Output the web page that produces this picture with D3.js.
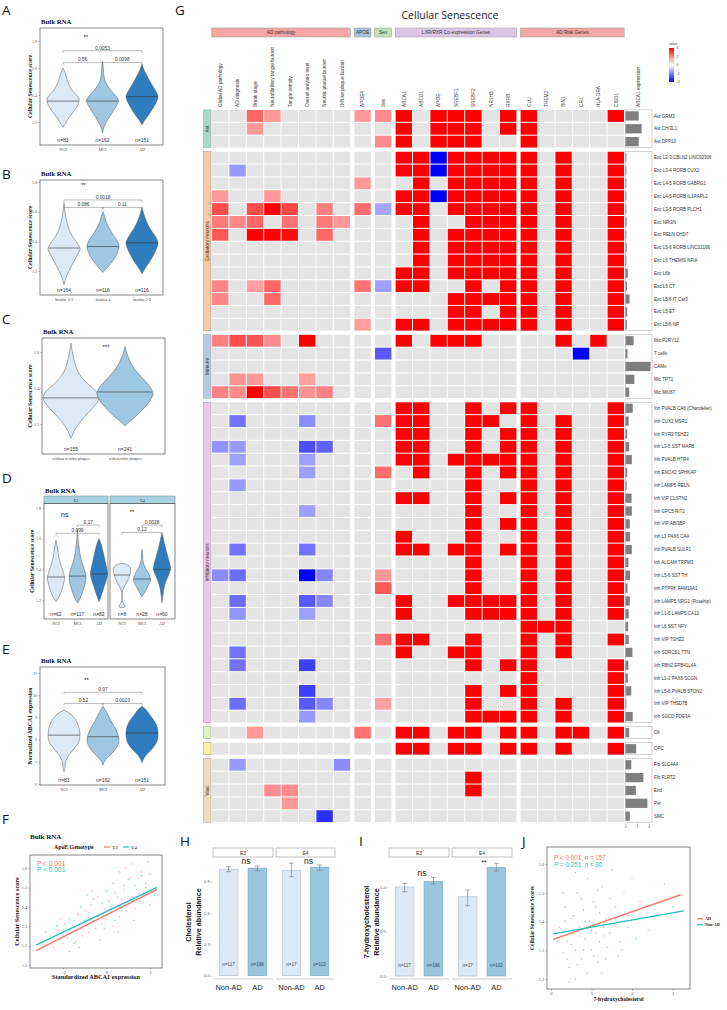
<!DOCTYPE html>
<html>
<head>
<meta charset="utf-8">
<script src="https://cdn.jsdelivr.net/npm/d3@7"></script>
<style>
body { margin: 0; background: #fff; }
</style>
</head>
<body>
<svg id="fig" width="727" height="1010"></svg>
<script>
var SERIF = '"Liberation Serif","Times New Roman",serif';
var SANS = '"Liberation Sans",Arial,sans-serif';
var LETTER = '"Open Sans","DejaVu Sans",sans-serif';

var dxCats = ["NCI", "MCI", "AD"];
var violinColors = ["#dce9f6", "#9dc7e2", "#2f7dbf"];

var violinA = [
  [[1.16,0],[1.18,.1],[1.22,.3],[1.26,.55],[1.3,.8],[1.34,.97],[1.37,1],[1.4,.85],[1.43,.6],[1.47,.4],[1.51,.27],[1.55,.17],[1.58,.08],[1.6,0]],
  [[1.12,0],[1.15,.06],[1.19,.2],[1.24,.45],[1.29,.72],[1.33,.92],[1.36,1],[1.39,.85],[1.43,.55],[1.47,.3],[1.51,.15],[1.56,.07],[1.61,.04],[1.65,0]],
  [[1.18,0],[1.21,.15],[1.25,.4],[1.29,.62],[1.33,.82],[1.37,.97],[1.39,1],[1.42,.9],[1.46,.7],[1.5,.5],[1.54,.32],[1.58,.15],[1.63,0]]
];
var medianA = [1.355, 1.355, 1.388];
var nA = [83, 162, 151];

var braakCats = ["braaksc 0-3", "braaksc 4", "braaksc 5-6"];
var violinB = [
  [[1.11,0],[1.14,.08],[1.18,.22],[1.23,.45],[1.28,.7],[1.32,.9],[1.35,1],[1.39,.82],[1.43,.55],[1.47,.35],[1.52,.2],[1.57,.1],[1.62,.04],[1.66,0]],
  [[1.19,0],[1.22,.25],[1.26,.55],[1.3,.8],[1.34,.95],[1.37,1],[1.41,.85],[1.45,.6],[1.49,.38],[1.53,.2],[1.57,.1],[1.6,0]],
  [[1.18,0],[1.21,.15],[1.25,.4],[1.3,.68],[1.35,.9],[1.39,1],[1.43,.85],[1.47,.6],[1.51,.38],[1.55,.22],[1.59,.1],[1.63,0]]
];
var medianB = [1.355, 1.365, 1.39];
var nB = [164, 116, 116];

var plaqueCats = ["without neuritic plaques", "with neuritic plaques"];
var violinC = [
  [[1.12,0],[1.15,.08],[1.19,.22],[1.24,.48],[1.29,.78],[1.33,.97],[1.35,1],[1.38,.9],[1.42,.62],[1.46,.38],[1.5,.22],[1.55,.12],[1.6,.05],[1.65,0]],
  [[1.19,0],[1.22,.22],[1.26,.5],[1.3,.75],[1.34,.93],[1.37,1],[1.41,.88],[1.45,.65],[1.49,.42],[1.53,.24],[1.57,.12],[1.6,.05],[1.63,0]]
];
var medianC = [1.345, 1.378];
var nC = [155, 241];

var violinDE3 = [
  [[1.19,0],[1.22,.35],[1.27,.7],[1.32,.95],[1.35,1],[1.39,.8],[1.44,.5],[1.49,.3],[1.54,.16],[1.59,0]],
  [[1.18,0],[1.21,.3],[1.26,.65],[1.31,.9],[1.35,1],[1.4,.8],[1.45,.5],[1.5,.3],[1.56,.15],[1.6,.06],[1.66,0]],
  [[1.19,0],[1.22,.2],[1.27,.5],[1.32,.8],[1.37,1],[1.41,.9],[1.46,.7],[1.51,.5],[1.56,.28],[1.6,0]]
];
var violinDE4 = [
  [[1.15,0],[1.155,.35],[1.175,.2],[1.195,.03],[1.25,.03],[1.29,.3],[1.33,.7],[1.37,.95],[1.41,1],[1.43,.6],[1.44,0]],
  [[1.22,0],[1.25,.3],[1.29,.7],[1.33,1],[1.37,.8],[1.41,.4],[1.45,.12],[1.49,.08],[1.53,0]],
  [[1.18,0],[1.22,.08],[1.27,.2],[1.32,.45],[1.36,.75],[1.4,1],[1.44,.9],[1.49,.65],[1.54,.4],[1.59,.2],[1.64,0]]
];
var medianDE3 = [1.35, 1.356, 1.37];
var medianDE4 = [1.363, 1.337, 1.40];
var nDE3 = [62, 117, 82];
var nDE4 = [8, 28, 60];

var violinE = [
  [[6.55,0],[6.7,.06],[7.0,.1],[7.3,.3],[7.6,.65],[7.9,.92],[8.2,1],[8.5,.95],[8.8,.8],[9.1,.5],[9.33,0]],
  [[6.85,0],[7.0,.08],[7.2,.3],[7.5,.7],[7.8,.95],[8.0,1],[8.3,.9],[8.6,.7],[8.9,.45],[9.2,.25],[9.5,0]],
  [[6.95,0],[7.1,.08],[7.3,.25],[7.6,.65],[7.9,.92],[8.2,1],[8.5,.97],[8.8,.8],[9.1,.5],[9.35,.25],[9.5,0]]
];
var medianE = [8.2, 8.13, 8.3];
var nE = [83, 162, 151];

// ---------- panel F / J scatter
var scatterFE3 = [[-2.9,1.22],[-2.6,1.25],[-2.4,1.19],[-2.2,1.28],[-2.0,1.21],[-1.9,1.31],[-1.8,1.24],[-1.6,1.27],[-1.5,1.33],[-1.4,1.22],[-1.3,1.36],[-1.2,1.29],[-1.1,1.25],[-1.0,1.38],[-0.9,1.31],[-0.8,1.27],[-0.7,1.41],[-0.6,1.33],[-0.5,1.29],[-0.4,1.45],[-0.3,1.36],[-0.2,1.31],[-0.1,1.39],[0.0,1.34],[0.1,1.43],[0.2,1.37],[0.3,1.30],[0.4,1.47],[0.5,1.40],[0.6,1.35],[0.7,1.44],[0.8,1.51],[0.9,1.38],[1.0,1.42],[1.1,1.55],[1.2,1.45],[1.3,1.39],[1.4,1.49],[1.5,1.43],[1.6,1.58],[1.7,1.46],[1.8,1.52],[2.0,1.41],[2.1,1.48],[-1.7,1.17],[-0.3,1.23],[0.9,1.60],[-2.1,1.34],[-1.25,1.19],[0.55,1.27],[1.25,1.33],[-0.65,1.48]];
var scatterFE4 = [[-2.8,1.27],[-2.3,1.30],[-2.0,1.25],[-1.7,1.34],[-1.4,1.28],[-1.2,1.40],[-1.0,1.33],[-0.8,1.37],[-0.6,1.44],[-0.4,1.35],[-0.2,1.42],[0.0,1.48],[0.2,1.40],[0.3,1.52],[0.5,1.45],[0.7,1.38],[0.8,1.49],[1.0,1.54],[1.1,1.44],[1.3,1.51],[1.5,1.47],[1.6,1.56],[1.8,1.50],[2.0,1.57],[2.2,1.46],[-1.5,1.21],[0.4,1.33],[1.2,1.62],[-0.9,1.46],[0.6,1.58],[1.9,1.63],[-0.1,1.29]];
var lineFE3 = [[-3.24,1.174],[2.32,1.49]];
var lineFE4 = [[-3.24,1.203],[2.32,1.50]];

var scatterJAD = [[0.2,1.38],[0.3,1.29],[0.35,1.45],[0.4,1.33],[0.45,1.24],[0.5,1.41],[0.55,1.36],[0.6,1.3],[0.65,1.5],[0.7,1.38],[0.75,1.27],[0.8,1.44],[0.85,1.34],[0.9,1.55],[0.95,1.4],[1.0,1.3],[1.05,1.47],[1.1,1.36],[1.15,1.26],[1.2,1.43],[1.25,1.52],[1.3,1.35],[1.35,1.41],[1.4,1.31],[1.45,1.48],[1.5,1.58],[1.55,1.39],[1.6,1.45],[1.7,1.33],[1.8,1.5],[1.9,1.42],[2.0,1.55],[2.2,1.47],[2.4,1.37],[2.8,1.53],[0.6,1.2],[1.0,1.6],[0.3,1.5],[1.25,1.22],[0.15,1.33],[0.85,1.62],[1.65,1.28]];
var scatterJNon = [[0.25,1.35],[0.4,1.27],[0.5,1.32],[0.55,1.42],[0.65,1.25],[0.7,1.35],[0.8,1.3],[0.85,1.4],[0.9,1.22],[1.0,1.37],[1.05,1.28],[1.1,1.45],[1.2,1.33],[1.3,1.38],[1.35,1.27],[1.45,1.36],[1.6,1.41],[1.75,1.3],[1.9,1.38],[2.1,1.34],[0.45,1.19],[0.75,1.48],[1.15,1.51],[3.0,1.45],[0.35,1.4],[0.6,1.57]];
var lineJAD = [[0.05,1.338],[3.2,1.493]];
var lineJNon = [[0.05,1.357],[3.28,1.437]];

// ---------- panels H / I bars
var barCats = ["Non-AD", "AD"];
var facetNames = ["E3", "E4"];
var cholMean = [1.02, 1.03, 1.01, 1.04];
var cholErr = [[0.996,1.044],[1.006,1.05],[0.948,1.077],[1.01,1.06]];
var hydroxyMean = [1.0, 1.065, 0.89, 1.22];
var hydroxyErr = [[0.947,1.04],[1.034,1.109],[0.79,0.966],[1.18,1.266]];
var barN = [117, 196, 17, 102];

// ---------- heatmap G
var factors = ["Global AD pathology","AD diagnosis","Braak stage","Neurofibrillary tangle burden","Tangle density","Overall amyloid level","Neuritic plaque burden","Diffuse plaque burden","APOE4","Sex","ABCA1","ABCG1","APOE","SREBF1","SREBF2","NR1H3","RXRB","CLU","TREM2","BIN1","CR1","HLA-DRA","CISD1"];
var factorGroups = ["AD pathology","APOE","Sex","LXR/RXR Co-expression Genes","AD Risk Genes"];
var factorGroupSizes = [8, 1, 1, 7, 6];
var factorGroupColors = ["#f4a7a4","#a9c3df","#bfe3b8","#dcc6e8","#f4a7a4"];

var cellTypes = ["Ast GRM3","Ast CHI3L1","Ast DPP10",
  "Exc L2-3 CBLN2 LINC02306","Exc L3-4 RORB CUX2","Exc L4-5 RORB GABRG1","Exc L4-5 RORB IL1RAPL2","Exc L3-5 RORB PLCH1","Exc NRGN","Exc RELN CHD7","Exc L5-6 RORB LINC02196","Exc L6 THEMIS NFIA","Exc L6b","Exc L6 CT","Exc L5/6 IT Car3","Exc L5 ET","Exc L5/6 NP",
  "Mic P2RY12","T cells","CAMs","Mic TPT1","Mic MKI67",
  "Inh PVALB CA8 (Chandelier)","Inh CUX2 MSR1","Inh RYR3 TSHZ2","Inh L3-5 SST MAFB","Inh PVALB HTR4","Inh ENOX2 SPHKAP","Inh LAMP5 RELN","Inh VIP CLSTN2","Inh GPC5 RIT2","Inh VIP ABI3BP","Inh L1 PAX6 CA4","Inh PVALB SULF1","Inh ALCAM TRPM3","Inh L5-6 SST TH","Inh PTPRK FAM19A1","Inh LAMP5 NRG1 (Rosehip)","Inh L1-6 LAMP5 CA13","Inh L6 SST NPY","Inh VIP TSHZ2","Inh SORCS1 TTN","Inh FBN2 EPB41L4A","Inh L1-2 PAX6 SCGN","Inh L5-6 PVALB STON2","Inh VIP THSD7B","Inh SGCD PDE3A",
  "Oli","OPC","Fib SLC4A4","Fib FLRT2","End","Per","SMC"];
var cellGroups = ["Ast","Excitatory neurons","Immune","Inhibitory neurons","Oli","OPC","Vasc"];
var cellGroupSizes = [3, 14, 5, 25, 1, 1, 5];
var cellGroupColors = ["#a9dcc8","#f8c9a2","#b9c9e0","#eac9e3","#e2f0c4","#fcf0a9","#ecdcc3"];

// association values, 0 = not significant (grey)
var assoc = [
  [0,0,2.4,1.6,0,0,0,0,1.6,1.8,4,0,4,4,4,0,4,4,0,0,0,0,4],
  [0,0,1.6,0,0,0,0,0,0,0,4,0,4,4,4,0,4,4,0,0,0,0,0],
  [0,0,0,0,0,0,0,0,0,1.8,4,0,4,4,4,0,0,4,0,0,0,0,0],
  [0,0,0,0,0,0,0,0,0,0,4,4,-4,4,4,4,4,4,0,4,0,0,4],
  [0,-1.6,0,0,0,0,0,0,0,0,4,4,-4,4,4,4,4,4,0,4,0,0,4],
  [0,0,0,0,0,0,0,0,1.6,0,0,4,0,4,4,4,4,4,0,4,0,0,4],
  [1.6,0,0,1.6,0,0,0,0,0,0,4,4,-4,4,4,4,4,4,0,4,0,0,4],
  [2.8,0,2.8,4,2.9,0,2.0,0,2.3,-1.4,4,4,0,4,4,4,4,4,0,4,0,0,4],
  [2.1,1.9,2.4,0,2.2,0,2.1,1.6,0,0,0,4,0,0,4,4,4,4,0,4,0,0,4],
  [2.6,0,4,4,3.8,0,2.4,0,0,0,0,4,0,4,4,4,4,4,0,4,0,0,4],
  [0,0,0,0,0,0,0,0,0,0,0,4,0,4,4,4,4,4,0,4,0,0,4],
  [0,0,0,0,0,0,0,0,0,0,0,4,0,4,4,4,4,4,0,4,0,0,4],
  [0,0,0,0,0,0,0,0,0,0,4,4,0,4,4,4,4,4,0,4,0,0,4],
  [1.9,0,1.5,2.4,0,0,0,0,2.2,-1.5,4,4,0,0,4,0,4,4,0,4,0,0,4],
  [1.9,0,0,2.4,0,0,0,0,0,0,0,0,0,4,4,4,4,4,0,4,0,0,4],
  [0,0,0,0,0,0,0,0,0,0,0,0,0,4,4,0,4,4,0,4,0,0,4],
  [0,0,0,0,0,0,0,0,1.5,0,4,4,0,4,4,4,4,4,0,4,0,0,4],
  [2.0,2.8,2.7,1.8,0,4,0,0,0,0,4,0,4,4,4,0,0,0,0,4,0,4,0],
  [0,0,0,0,0,0,0,0,0,-2.6,0,0,0,0,0,0,0,0,0,0,-4,0,0],
  [0,0,0,0,0,0,0,0,0,0,0,0,0,0,0,0,0,0,0,0,0,0,0],
  [0,1.7,1.6,0,0,1.5,0,0,0,0,0,0,0,0,0,0,0,0,0,0,0,0,0],
  [2.0,1.8,4,2.8,2.2,1.7,2.0,0,0,0,0,0,0,0,0,0,0,0,0,0,0,0,0],
  [0,0,0,0,0,0,0,0,0,0,4,4,0,0,4,0,4,4,0,0,0,0,4],
  [0,-2.2,0,0,0,-1.8,0,0,0,2.2,4,4,0,0,4,4,0,4,0,4,0,0,4],
  [0,0,0,0,0,0,0,0,0,0,4,4,0,0,4,0,4,4,0,4,0,0,4],
  [-1.7,-1.6,0,0,0,-2.8,-2.5,0,0,0,4,4,0,0,4,0,4,4,0,4,0,0,4],
  [0,-1.5,0,0,0,-1.5,0,0,0,0,4,4,0,4,4,4,4,4,0,4,0,0,4],
  [0,0,0,0,0,-1.5,0,0,0,2.3,0,4,0,0,4,0,4,4,0,4,0,0,4],
  [0,-1.6,0,0,0,0,0,0,0,0,0,0,0,0,4,0,0,4,0,4,0,0,4],
  [0,0,0,0,0,0,0,0,0,0,4,4,0,0,4,0,4,4,0,4,0,0,4],
  [0,0,0,0,0,-1.5,0,0,0,0,0,0,0,0,4,0,0,4,0,4,0,0,4],
  [0,0,0,0,0,0,0,0,0,0,0,0,0,0,4,0,4,4,0,4,0,0,4],
  [0,0,0,0,0,0,0,0,0,0,4,0,0,0,4,0,0,4,0,4,0,0,4],
  [0,-2.2,0,0,0,-2.2,0,0,0,0,4,4,0,4,4,0,4,4,0,4,0,0,4],
  [0,0,0,0,0,0,0,0,0,0,0,0,0,0,4,0,0,4,0,4,0,0,4],
  [-1.8,-2.3,0,0,0,-4,-1.9,0,0,1.6,0,0,0,0,4,0,0,4,0,4,0,0,4],
  [0,0,0,0,0,0,0,0,0,2.6,0,0,0,0,4,0,0,4,0,4,0,0,4],
  [0,-2.3,0,0,0,-2.6,-1.9,0,0,0,4,0,0,4,4,4,4,4,0,4,0,0,4],
  [0,-1.7,0,0,0,-1.5,0,0,0,0,4,0,0,0,4,4,4,4,0,4,0,0,4],
  [0,0,0,0,0,0,0,0,0,0,0,0,0,0,0,0,0,4,4,4,0,0,0],
  [0,0,0,0,0,0,0,0,0,2.2,4,4,0,0,4,0,0,4,0,4,0,0,4],
  [0,-2.2,0,0,0,0,0,0,0,0,4,0,0,4,4,0,0,4,0,4,0,0,0],
  [0,-2.2,0,0,0,-3,0,0,0,0,0,0,0,0,4,0,4,4,0,0,0,0,4],
  [0,0,0,0,0,0,0,0,0,0,0,0,0,0,0,0,0,4,0,0,0,0,4],
  [0,0,0,0,0,-3,0,0,0,0,0,0,0,0,4,0,4,4,0,0,0,0,4],
  [0,-2.3,0,0,0,-2.6,-1.9,0,0,1.5,0,0,0,0,4,0,0,4,0,4,0,0,4],
  [0,0,0,0,0,-1.6,0,0,0,0,0,0,0,0,4,4,4,4,0,4,0,0,4],
  [0,0,1.6,0,0,0,0,0,2.2,0,4,4,0,4,4,0,4,4,0,4,4,0,4],
  [0,0,0,0,0,0,0,0,0,0,4,4,0,4,4,0,4,4,0,4,0,0,4],
  [0,-1.6,0,0,0,0,0,-1.8,0,0,0,0,0,0,0,0,0,0,0,0,0,0,0],
  [0,0,0,0,0,0,0,0,0,0,0,0,0,0,4,0,0,0,0,0,0,0,0],
  [0,0,0,1.8,1.8,0,0,0,0,0,0,0,0,0,4,0,0,0,0,0,0,0,0],
  [0,0,0,0,1.6,0,0,0,0,0,0,0,0,0,0,0,0,0,0,0,0,0,0],
  [0,0,0,0,0,0,-3.3,0,0,0,0,0,0,0,0,0,0,0,0,0,0,0,0]
];
var abca1Expr = [2.3,2.8,2.3, 0.15,0.15,0.15,0.15,0.15,0.2,0.15,0.2,0.15,0.4,0.25,0.7,0.3,0.25,
  1.4,0.35,4.35,1.55,0.65,
  1.25,0.55,0.3,0.65,1.1,0.3,0.2,1.05,1.1,0.75,0.8,1.1,0.5,0.8,0.35,0.75,0.55,0.45,0.55,1.2,0.5,0.4,1.0,0.15,1.25,
  0.65,1.85, 1.0,3.1,1.8,3.8,0.75];
var legendTicks = [4, 2, 0, -2, -4];

var svg = d3.select("#fig");
svg.append("rect").attr("width", 727).attr("height", 1010).attr("fill", "#fff");

function label(g, x, y, s, size, o) {
  o = o || {};
  var t = g.append("text").attr("x", x).attr("y", y).text(s)
    .attr("font-size", size)
    .attr("font-family", o.font || SANS)
    .attr("fill", o.fill || "#222")
    .attr("text-anchor", o.anchor || "start");
  if (o.bold) t.attr("font-weight", "bold");
  if (o.rot) t.attr("transform", "rotate(" + o.rot + "," + x + "," + y + ")");
  return t;
}

function styleAxis(ax, size, font) {
  ax.select(".domain").remove();
  ax.selectAll(".tick line").attr("stroke", "#666").attr("stroke-width", 0.5);
  ax.selectAll(".tick text").attr("font-size", size || 4).attr("font-family", font || SERIF).attr("fill", "#555");
}

function widthAt(prof, v) {
  for (var i = 1; i < prof.length; i++) {
    if (v <= prof[i][0]) {
      var a = prof[i - 1], b = prof[i];
      return a[1] + (b[1] - a[1]) * (v - a[0]) / (b[0] - a[0]);
    }
  }
  return 0;
}

// panel letters
[["A",2,15],["B",2,179],["C",2,324],["D",2,483],["E",2,654],["F",2,824],["G",175,15],["H",180,846],["I",359,846],["J",522,846]]
  .forEach(function (d) { label(svg, d[1], d[2], d[0], 13.5, {font: LETTER, fill: "#111"}); });

function violinPanel(p) {
  var g = svg.append("g");
  var y = d3.scaleLinear().domain(p.yDom).range(p.yRng);
  var x = d3.scalePoint().domain(p.cats).range(p.xRng);
  var w = d3.scaleLinear().domain([0, 1]).range([0, p.half]);
  g.append("rect").attr("x", p.box[0]).attr("y", p.box[1])
    .attr("width", p.box[2] - p.box[0]).attr("height", p.box[3] - p.box[1])
    .attr("fill", "none").attr("stroke", "#555").attr("stroke-width", 0.7);
  if (p.ticks) {
    var ax = g.append("g").attr("transform", "translate(" + p.box[0] + ",0)")
      .call(d3.axisLeft(y).tickValues(p.ticks).tickSize(1.5).tickPadding(1.5).tickFormat(d3.format(p.fmt)));
    styleAxis(ax, 4);
  }
  p.cats.forEach(function (c, i) {
    var cx = x(c);
    var area = d3.area().curve(d3.curveCatmullRom.alpha(0.5))
      .y(function (d) { return y(d[0]); })
      .x0(function (d) { return cx - w(d[1]); })
      .x1(function (d) { return cx + w(d[1]); });
    g.append("path").datum(p.shapes[i]).attr("d", area)
      .attr("fill", p.colors[i]).attr("stroke", "#555").attr("stroke-width", 0.5);
    var mw = w(widthAt(p.shapes[i], p.medians[i]));
    g.append("line").attr("x1", cx - mw).attr("x2", cx + mw)
      .attr("y1", y(p.medians[i])).attr("y2", y(p.medians[i]))
      .attr("stroke", "#333").attr("stroke-width", 0.6);
    label(g, cx, p.box[3] - 3, "n=" + p.ns[i], 5, {anchor: "middle", fill: "#333"});
    label(g, cx, p.box[3] + 6, c, p.catSize || 4.3, {anchor: "middle", font: SERIF, fill: "#444"});
  });
  (p.brackets || []).forEach(function (b) {
    var x1 = x(p.cats[b[0]]), x2 = x(p.cats[b[1]]), by = y(b[2]);
    g.append("path").attr("d", "M" + x1 + "," + (by + 2) + "V" + by + "H" + x2 + "V" + (by + 2))
      .attr("fill", "none").attr("stroke", "#777").attr("stroke-width", 0.5);
    label(g, (x1 + x2) / 2, by - 1.2, b[3], 4.8, {anchor: "middle", fill: "#333"});
  });
  if (p.star) {
    var sx = (x(p.cats[0]) + x(p.cats[1])) / 2 + p.star[2];
    label(g, sx, y(p.star[1]) + 2, p.star[0], p.star[0] === "ns" ? 7 : 6, {anchor: "middle", fill: "#222"});
  }
  if (p.title) label(g, p.box[0] + 1, p.titleY || p.box[1] - 4, p.title, 6.8, {font: SERIF, bold: true, fill: "#111"});
  if (p.ylab) label(g, p.ylabX, (p.box[1] + p.box[3]) / 2, p.ylab, 5.8, {font: SERIF, bold: true, fill: "#111", anchor: "middle", rot: -90});
  return g;
}

// A
violinPanel({box: [40, 28, 163, 145], yDom: [1.2, 1.8], yRng: [122, 41], xRng: [63, 142], cats: dxCats,
  half: 16, shapes: violinA, medians: medianA, ns: nA, colors: violinColors, ticks: [1.2, 1.4, 1.6, 1.8], fmt: ".1f",
  brackets: [[0, 2, 1.728, "0.0053"], [0, 1, 1.64, "0.56"], [1, 2, 1.64, "0.0098"]], star: ["**", 1.832, 3],
  title: "Bulk RNA", ylab: "Cellular Senescence score", ylabX: 32});
// B
violinPanel({box: [40, 180, 163, 295], yDom: [1.2, 1.8], yRng: [271, 182], xRng: [64, 142], cats: braakCats, catSize: 3.8,
  half: 16, shapes: violinB, medians: medianB, ns: nB, colors: violinColors, ticks: [1.2, 1.4, 1.6, 1.8], fmt: ".1f",
  brackets: [[0, 2, 1.679, "0.0018"], [0, 1, 1.629, "0.086"], [1, 2, 1.629, "0.11"]], star: ["**", 1.78, 0],
  title: "Bulk RNA", ylab: "Cellular Senescence score", ylabX: 32});
// C
violinPanel({box: [42, 338, 165, 454], yDom: [1.2, 1.6], yRng: [424, 352], xRng: [71, 125], cats: plaqueCats, catSize: 3.9,
  half: 28, shapes: violinC, medians: medianC, ns: nC, colors: violinColors, ticks: [1.2, 1.4, 1.6], fmt: ".1f",
  star: ["***", 1.63, 8], title: "Bulk RNA", ylab: "Cellular Senescence score", ylabX: 32});
// D facets
[[44, 108, "E3"], [110, 175, "E4"]].forEach(function (f) {
  svg.append("rect").attr("x", f[0]).attr("y", 496).attr("width", f[1] - f[0]).attr("height", 7.5)
    .attr("fill", "#a6d4e2").attr("stroke", "#777").attr("stroke-width", 0.5);
  label(svg, (f[0] + f[1]) / 2, 501.8, f[2], 4.2, {anchor: "middle", font: SERIF, fill: "#333"});
});
violinPanel({box: [44, 503.5, 108, 619], yDom: [1.2, 1.8], yRng: [600, 508], xRng: [56, 99], cats: dxCats,
  half: 8.5, shapes: violinDE3, medians: medianDE3, ns: nDE3, colors: violinColors, ticks: [1.2, 1.4, 1.6, 1.8], fmt: ".1f",
  brackets: [[1, 2, 1.689, "0.17"], [0, 2, 1.635, "0.099"]], star: ["ns", 1.755, -2],
  title: "Bulk RNA", titleY: 492.5, ylab: "Cellular Senescence score", ylabX: 34});
violinPanel({box: [110, 503.5, 175, 619], yDom: [1.2, 1.8], yRng: [600, 508], xRng: [122, 162], cats: dxCats,
  half: 8.5, shapes: violinDE4, medians: medianDE4, ns: nDE4, colors: violinColors,
  brackets: [[1, 2, 1.689, "0.0028"], [0, 2, 1.64, "0.12"]], star: ["**", 1.776, 0]});
// E
violinPanel({box: [40, 667, 165, 785], yDom: [6, 11], yRng: [784, 673], xRng: [64, 142], cats: dxCats,
  half: 16, shapes: violinE, medians: medianE, ns: nE, colors: violinColors, ticks: [6, 7, 8, 9, 10, 11], fmt: "d",
  brackets: [[0, 2, 10.13, "0.07"], [0, 1, 9.63, "0.52"], [1, 2, 9.63, "0.0023"]], star: ["**", 10.68, 3],
  title: "Bulk RNA", ylab: "Normalized ABCA1 expression", ylabX: 32});

// ---------- scatter panels
function scatterPanel(p) {
  var g = svg.append("g");
  var x = d3.scaleLinear().domain(p.xDom).range(p.xRng);
  var y = d3.scaleLinear().domain(p.yDom).range(p.yRng);
  g.append("rect").attr("x", p.box[0]).attr("y", p.box[1])
    .attr("width", p.box[2] - p.box[0]).attr("height", p.box[3] - p.box[1])
    .attr("fill", "none").attr("stroke", "#555").attr("stroke-width", 0.7);
  var ay = g.append("g").attr("transform", "translate(" + p.box[0] + ",0)")
    .call(d3.axisLeft(y).tickValues(p.yTicks).tickSize(1.5).tickPadding(1.5).tickFormat(d3.format(".1f")));
  styleAxis(ay, 4.2);
  var axx = g.append("g").attr("transform", "translate(0," + p.box[3] + ")")
    .call(d3.axisBottom(x).tickValues(p.xTicks).tickSize(1.5).tickPadding(1).tickFormat(d3.format("d")));
  styleAxis(axx, 4.6);
  p.series.forEach(function (s) {
    g.selectAll(null).data(s.pts).enter().append("circle")
      .attr("cx", function (d) { return x(d[0]); }).attr("cy", function (d) { return y(d[1]); })
      .attr("r", 0.7).attr("fill", s.color).attr("opacity", 0.75);
  });
  p.series.forEach(function (s) {
    g.append("path").datum(s.line).attr("d", d3.line().x(function (d) { return x(d[0]); }).y(function (d) { return y(d[1]); }))
      .attr("stroke", s.color).attr("stroke-width", 1.4).attr("fill", "none");
  });
  label(g, (p.box[0] + p.box[2]) / 2, p.xlabY, p.xlab, p.labSize, {font: SERIF, bold: true, anchor: "middle", fill: "#111"});
  label(g, p.ylabX, (p.box[1] + p.box[3]) / 2, p.ylab, p.labSize, {font: SERIF, bold: true, anchor: "middle", fill: "#111", rot: -90});
  return g;
}

var RED = "#f8766d", TEAL = "#1fbfb8";
var gF = scatterPanel({box: [30, 855, 162, 968], xDom: [-2, 2], xRng: [63, 150], yDom: [1.1, 1.6], yRng: [965, 868],
  xTicks: [-2, 0, 2], yTicks: [1.1, 1.2, 1.3, 1.4, 1.5, 1.6],
  series: [{pts: scatterFE3, line: lineFE3, color: RED}, {pts: scatterFE4, line: lineFE4, color: TEAL}],
  xlab: "Standardized ABCA1 expression", xlabY: 979, ylab: "Cellular Senescence score", ylabX: 19, labSize: 6.3});
label(gF, 30, 839, "Bulk RNA", 7, {font: SERIF, bold: true, fill: "#111"});
label(gF, 54, 849, "ApoE Genotype", 5.8, {font: SERIF, bold: true, fill: "#111"});
[[RED, "E3", 104], [TEAL, "E4", 123]].forEach(function (d) {
  gF.append("line").attr("x1", d[2]).attr("x2", d[2] + 6).attr("y1", 847).attr("y2", 847).attr("stroke", d[0]).attr("stroke-width", 1.2);
  label(gF, d[2] + 8.5, 849, d[1], 4.8, {font: SERIF, fill: "#222"});
});
label(gF, 37, 866, "P < 0.001", 6.6, {fill: RED});
label(gF, 37, 872, "P < 0.001", 6.6, {fill: TEAL});

var gJ = scatterPanel({box: [547, 847, 690, 989], xDom: [0, 3], xRng: [551, 672.5], yDom: [1.2, 1.6], yRng: [979, 864],
  xTicks: [0, 1, 2, 3], yTicks: [1.2, 1.3, 1.4, 1.5, 1.6],
  series: [{pts: scatterJAD, line: lineJAD, color: RED}, {pts: scatterJNon, line: lineJNon, color: TEAL}],
  xlab: "7-hydroxycholesterol", xlabY: 1001, ylab: "Cellular Senescence Scores", ylabX: 534, labSize: 5.6});
[[RED, 860, "< 0.001", "157"], [TEAL, 867, "= 0.251", "80"]].forEach(function (d) {
  var t = gJ.append("text").attr("x", 554).attr("y", d[1]).attr("font-size", 6.3).attr("font-family", SANS).attr("fill", d[0]);
  t.append("tspan").attr("font-style", "italic").text("P");
  t.append("tspan").text(" " + d[2] + ", ");
  t.append("tspan").attr("font-style", "italic").text("n");
  t.append("tspan").text(" = " + d[3]);
});
[[RED, "AD", 920], [TEAL, "Non-AD", 926]].forEach(function (d) {
  gJ.append("line").attr("x1", 697).attr("x2", 703).attr("y1", d[2] - 1.3).attr("y2", d[2] - 1.3).attr("stroke", d[0]).attr("stroke-width", 1.2);
  label(gJ, 705, d[2], d[1], 4.2, {font: SERIF, bold: true, fill: "#222"});
});

// ---------- bar panels H / I
function barPanel(p) {
  var g = svg.append("g");
  var y = d3.scaleLinear().domain(p.yDom).range(p.yRng);
  var ay = g.append("g").attr("transform", "translate(" + p.axisX + ",0)")
    .call(d3.axisLeft(y).tickValues(p.ticks).tickSize(1.2).tickPadding(1.2).tickFormat(d3.format(".1f")));
  styleAxis(ay, 4, SANS);
  p.facets.forEach(function (f, fi) {
    var x = d3.scaleBand().domain(barCats).range([f[0], f[1]]).paddingInner(0.35).paddingOuter(0.22);
    g.append("rect").attr("x", f[0]).attr("y", 848).attr("width", f[1] - f[0]).attr("height", 9)
      .attr("fill", "#fff").attr("stroke", "#999").attr("stroke-width", 0.6);
    label(g, (f[0] + f[1]) / 2, 854.5, facetNames[fi], 5, {anchor: "middle", fill: "#333"});
    g.append("line").attr("x1", f[0]).attr("x2", f[1]).attr("y1", 979).attr("y2", 979).attr("stroke", "#d0d0d0").attr("stroke-width", 1.2);
    barCats.forEach(function (c, ci) {
      var k = fi * 2 + ci, bx = x(c), bw = x.bandwidth(), cx = bx + bw / 2;
      g.append("rect").attr("x", bx).attr("y", y(p.mean[k])).attr("width", bw).attr("height", y(0) - y(p.mean[k]))
        .attr("fill", ci === 0 ? "#dce9f5" : "#99c6df").attr("stroke", ci === 0 ? "#aab8c6" : "#7aa5be").attr("stroke-width", 0.6);
      var e = p.err[k];
      g.append("path").attr("d", "M" + (cx - 2.5) + "," + y(e[0]) + "H" + (cx + 2.5) + "M" + cx + "," + y(e[0]) + "V" + y(e[1]) + "M" + (cx - 2.5) + "," + y(e[1]) + "H" + (cx + 2.5))
        .attr("stroke", "#777").attr("stroke-width", 0.6).attr("fill", "none");
      label(g, cx, p.nY, "n=" + barN[k], 4.6, {anchor: "middle", fill: "#2a4a63"});
      label(g, cx, 990, c, 7.4, {anchor: "middle", fill: "#222"});
    });
    var s = p.sig[fi];
    label(g, (x("Non-AD") + x("AD") + x.bandwidth()) / 2 + s[2], y(s[1]), s[0], s[0] === "ns" ? 8.5 : 7, {anchor: "middle", fill: "#222"});
  });
  label(g, p.ylabX, 922, p.ylab[0], 7.2, {bold: true, anchor: "middle", fill: "#111", rot: -90});
  label(g, p.ylabX + 9.5, 922, p.ylab[1], 7.2, {bold: true, anchor: "middle", fill: "#111", rot: -90});
}
barPanel({yDom: [0, 0.9], yRng: [975.7, 881.7], ticks: [0, 0.3, 0.6, 0.9], axisX: 212, facets: [[213, 273], [276, 335]],
  mean: cholMean, err: cholErr, nY: 966, sig: [["ns", 1.065, 3], ["ns", 1.065, 3]], ylab: ["Cholesterol", "Relative abundance"], ylabX: 191});
barPanel({yDom: [0, 1], yRng: [976, 887], ticks: [0, 0.5, 1], axisX: 388, facets: [[389, 449], [452, 512]],
  mean: hydroxyMean, err: hydroxyErr, nY: 967, sig: [["ns", 1.12, 3], ["**", 1.25, 2]], ylab: ["7-hydroxycholesterol", "Relative abundance"], ylabX: 369});

// ---------- heatmap G
var hm = svg.append("g");
label(hm, 450, 19, "Cellular Senescence", 10.5, {font: LETTER, anchor: "middle", fill: "#222"});
var color = d3.scaleLinear().domain([-4, 0, 4]).range(["#0000ff", "#ffffff", "#ff0000"]).clamp(true);
var colScale = {}, cx0 = 211.5, cStep = 17.4, cGap = 3.2, k = 0;
factorGroups.forEach(function (gr, gi) {
  var names = factors.slice(k, k + factorGroupSizes[gi]);
  var sc = d3.scaleBand().domain(names).range([cx0, cx0 + names.length * cStep]);
  names.forEach(function (nm) { colScale[nm] = sc; });
  hm.append("rect").attr("x", cx0 + 0.3).attr("y", 28).attr("width", names.length * cStep - 0.6).attr("height", 9)
    .attr("fill", factorGroupColors[gi]).attr("stroke", "#999").attr("stroke-width", 0.5);
  label(hm, cx0 + names.length * cStep / 2, 34.3, gr, 4.8, {anchor: "middle", fill: "#333"});
  cx0 += names.length * cStep + cGap; k += names.length;
});
var rowScale = {}, ry0 = 109.5, rStep = 12.85, rGap = 3.2;
var barX = d3.scaleLinear().domain([0, 4.6]).range([625.5, 652]);
k = 0;
cellGroups.forEach(function (gr, gi) {
  var names = cellTypes.slice(k, k + cellGroupSizes[gi]);
  var sc = d3.scaleBand().domain(names).range([ry0, ry0 + names.length * rStep]);
  names.forEach(function (nm) { rowScale[nm] = sc; });
  var h = names.length * rStep;
  hm.append("rect").attr("x", 203.5).attr("y", ry0 + 0.4).attr("width", 7.5).attr("height", h - 0.8)
    .attr("fill", cellGroupColors[gi]).attr("stroke", "#999").attr("stroke-width", 0.5);
  if (names.length > 2) label(hm, 208.9, ry0 + h / 2, gr, 4.8, {anchor: "middle", fill: "#333", rot: -90});
  hm.append("rect").attr("x", 625.5).attr("y", ry0 + 0.4).attr("width", 26.5).attr("height", h - 0.8)
    .attr("fill", "none").attr("stroke", "#aaa").attr("stroke-width", 0.5);
  ry0 += h + rGap; k += names.length;
});
cellTypes.forEach(function (ct, i) {
  var ys = rowScale[ct], yy = ys(ct), hh = ys.bandwidth();
  factors.forEach(function (f, j) {
    var xs = colScale[f], v = assoc[i][j];
    hm.append("rect").attr("x", xs(f) + 0.5).attr("y", yy + 0.5).attr("width", xs.bandwidth() - 1).attr("height", hh - 1)
      .attr("fill", v === 0 ? "#e4e4e4" : color(v));
  });
  hm.append("rect").attr("x", barX(0)).attr("y", yy + 1.8).attr("width", barX(abca1Expr[i]) - barX(0)).attr("height", hh - 3.6)
    .attr("fill", "#7f7f7f");
  label(hm, 654, yy + hh / 2 + 1.6, ct, 4.5, {fill: "#333"});
});
var barAx = hm.append("g").attr("transform", "translate(0,823.5)")
  .call(d3.axisBottom(barX).tickValues([0, 2, 4]).tickSize(1.5).tickPadding(0.8).tickFormat(d3.format("d")));
styleAxis(barAx, 3, SANS);
factors.concat(["ABCA1 expression"]).forEach(function (f) {
  var cxp = colScale[f] ? colScale[f](f) + colScale[f].bandwidth() / 2 : 638.5;
  label(hm, cxp + 1.7, 107, f, 4.8, {fill: "#333", rot: -90});
});
// legend
var defs = svg.append("defs");
var grad = defs.append("linearGradient").attr("id", "lg").attr("x1", 0).attr("x2", 0).attr("y1", 0).attr("y2", 1);
legendTicks.forEach(function (v, i) {
  grad.append("stop").attr("offset", i / (legendTicks.length - 1)).attr("stop-color", color(v));
});
var ly = d3.scaleLinear().domain([4, -4]).range([48, 82]);
hm.append("rect").attr("x", 669).attr("y", ly(4)).attr("width", 5).attr("height", ly(-4) - ly(4)).attr("fill", "url(#lg)");
label(hm, 669, 45, "value", 3.6, {fill: "#333"});
legendTicks.forEach(function (v) {
  label(hm, 676.5, ly(v) + 1.2, v, 3.4, {fill: "#444"});
});
</script>
</body>
</html>
